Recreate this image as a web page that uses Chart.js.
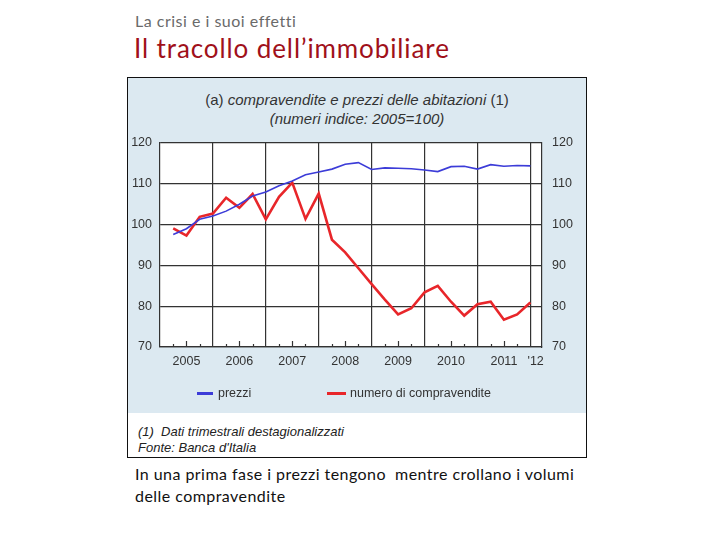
<!DOCTYPE html>
<html>
<head>
<meta charset="utf-8">
<script src="https://cdn.jsdelivr.net/npm/chart.js@4"></script>
<style>
  html,body{margin:0;padding:0;background:#fff;width:720px;height:540px;overflow:hidden;}
  .abs{position:absolute;white-space:nowrap;}
  #kicker{left:135px;top:11px;font:16px Lato,"Open Sans",sans-serif;color:#6a6a6a;letter-spacing:0.5px;}
  #title{left:134px;top:32px;font:26px Lato,"Open Sans",sans-serif;color:#a0101a;letter-spacing:0.9px;}
  #box{left:127px;top:77px;width:458px;height:379px;border:1px solid #111;background:#fff;}
  #panel{left:128px;top:78px;width:458px;height:335px;background:#dce9f1;}
  #wrap{left:128px;top:78px;width:458px;height:335px;}
  #ctitle{left:128px;top:90px;width:458px;text-align:center;font:15px "Liberation Sans",Arial,sans-serif;color:#333;line-height:19px;}
  #ctitle i{font-style:italic;}
  .leg{font:12.5px "Liberation Sans",Arial,sans-serif;color:#333;top:386px;}
  .legline{height:2.5px;top:392px;}
  #foot{left:138px;top:424px;font:italic 13px "Liberation Sans",Arial,sans-serif;color:#222;line-height:16px;}
  #note{left:135px;top:463px;font:16px Lato,"Open Sans",sans-serif;color:#111;line-height:22px;letter-spacing:0.45px;}
</style>
</head>
<body>
<div id="kicker" class="abs">La crisi e i suoi effetti</div>
<div id="title" class="abs">Il tracollo dell’immobiliare</div>
<div id="box" class="abs"></div>
<div id="panel" class="abs"></div>
<div id="ctitle" class="abs">(a) <i>compravendite e prezzi delle abitazioni</i> (1)<br><i>(numeri indice: 2005=100)</i></div>
<div id="wrap" class="abs"><canvas id="c" width="458" height="335"></canvas></div>
<div class="abs legline" style="left:197px;width:16px;background:#3c3cd8;"></div>
<div class="abs leg" style="left:218px;">prezzi</div>
<div class="abs legline" style="left:327px;width:19px;background:#e8262a;"></div>
<div class="abs leg" style="left:350px;">numero di compravendite</div>
<div id="foot" class="abs">(1)&nbsp; Dati trimestrali destagionalizzati<br>Fonte: Banca d'Italia</div>
<div id="note" class="abs">In una prima fase i prezzi tengono&nbsp; mentre crollano i volumi<br>delle compravendite</div>

<script>
// Quarterly data 2005 Q1 – 2011 Q4
const years = [2005, 2006, 2007, 2008, 2009, 2010, 2011];
const quartersPerYear = 4;
const prezzi = [
  97.6, 99.0, 101.3, 102.1,
  103.3, 105.0, 107.0, 108.0,
  109.5, 110.7, 112.2, 112.9,
  113.6, 114.8, 115.2, 113.5,
  113.9, 113.8, 113.7, 113.4,
  113.0, 114.2, 114.3, 113.6,
  114.7, 114.3, 114.5, 114.4
];
const compravendite = [
  99.1, 97.3, 101.9, 102.7,
  106.6, 104.1, 107.5, 101.3,
  106.8, 110.3, 101.4, 107.6,
  96.3, 93.2, 89.3, 85.4,
  81.6, 78.0, 79.5, 83.4,
  85.0, 81.1, 77.7, 80.5,
  81.1, 76.7, 78.0, 80.9
];
const yTicks = [70, 80, 90, 100, 110, 120];
const xMin = 2005, xMax = 2012.22;
const lastLabel = "'12";

// x position of each quarter (end of quarter)
const xs = [];
years.forEach(y => { for (let q = 1; q <= quartersPerYear; q++) xs.push(y + q / quartersPerYear); });

const tickVals = [];
years.forEach(y => { tickVals.push(y + 0.5); tickVals.push(y + 1); });
tickVals.push(2012.1);

const quarterMarks = xs.slice();

const bgPlugin = {
  id: 'plotbg',
  beforeDraw(chart) {
    const a = chart.chartArea, ctx = chart.ctx;
    ctx.save(); ctx.fillStyle = '#fff';
    ctx.fillRect(a.left, a.top, a.right - a.left, a.bottom - a.top);
    ctx.restore();
  },
  afterDraw(chart) {
    const a = chart.chartArea, ctx = chart.ctx, xs_ = chart.scales.x;
    ctx.save(); ctx.strokeStyle = '#333'; ctx.lineWidth = 1.2;
    quarterMarks.forEach(v => {
      if (Number.isInteger(v)) return;
      const x = Math.round(xs_.getPixelForValue(v)) + 0.5;
      const len = Math.abs((v % 1) - 0.5) < 1e-6 ? 6 : 3;
      ctx.beginPath(); ctx.moveTo(x, a.bottom); ctx.lineTo(x, a.bottom - len); ctx.stroke();
    });
    ctx.restore();
  }
};

const font = { family: '"Liberation Sans", Arial, sans-serif', size: 12.5 };

new Chart(document.getElementById('c'), {
  type: 'line',
  data: {
    datasets: [
      { label: 'prezzi', data: xs.map((x, i) => ({ x, y: prezzi[i] })),
        borderColor: '#3c3cd8', borderWidth: 1.6, pointRadius: 0, tension: 0, yAxisID: 'y' },
      { label: 'numero di compravendite', data: xs.map((x, i) => ({ x, y: compravendite[i] })),
        borderColor: '#e8262a', borderWidth: 2.6, pointRadius: 0, tension: 0, yAxisID: 'y' }
    ]
  },
  options: {
    responsive: false, animation: false,
    layout: { padding: { top: 65, left: 0, right: 0, bottom: 0 } },
    plugins: { legend: { display: false }, title: { display: false }, tooltip: { enabled: false } },
    scales: {
      x: {
        type: 'linear', min: xMin, max: xMax, position: 'bottom',
        afterBuildTicks(s) { s.ticks = tickVals.map(v => ({ value: v })); },
        afterFit(s) { s.height = 66; },
        grid: { drawTicks: false, lineWidth: 1.2,
          color: c => (c.tick && Number.isInteger(c.tick.value)) ? '#333' : 'rgba(0,0,0,0)' },
        border: { display: true, color: '#333', width: 1.2 },
        ticks: { autoSkip: false, maxRotation: 0, padding: 7, color: '#333', font,
          callback: v => {
            if (Math.abs(v - 2012.1) < 1e-6) return lastLabel;
            if (Math.abs((v % 1) - 0.5) < 1e-6) return String(Math.floor(v));
            return '';
          } }
      },
      y: {
        position: 'left', min: 70, max: 120,
        afterBuildTicks(s) { s.ticks = yTicks.map(v => ({ value: v })); },
        afterFit(s) { s.width = 32; },
        grid: { drawTicks: false, color: '#333', lineWidth: 1.2 },
        border: { display: true, color: '#333', width: 1.2 },
        ticks: { padding: 8, color: '#333', font }
      },
      y2: {
        position: 'right', min: 70, max: 120,
        afterBuildTicks(s) { s.ticks = yTicks.map(v => ({ value: v })); },
        afterFit(s) { s.width = 44; },
        grid: { display: false, drawTicks: false },
        border: { display: true, color: '#333', width: 1.2 },
        ticks: { padding: 10, color: '#333', font }
      }
    }
  },
  plugins: [bgPlugin]
});
</script>
</body>
</html>
